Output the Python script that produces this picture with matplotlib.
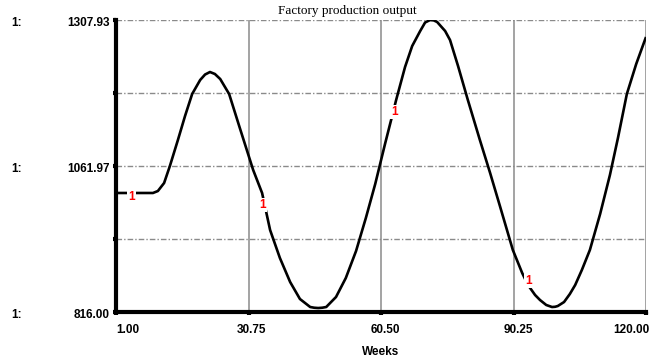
import numpy as np
import matplotlib
matplotlib.use("Agg")
import matplotlib.pyplot as plt
from matplotlib import transforms

# Simulated factory output (weeks vs units)
weeks = [1.0, 9.3, 10.4, 11.8, 13.1, 14.9, 16.5, 18.1, 19.9, 21.0, 22.1, 23.2,
         24.4, 26.4, 28.8, 31.8, 33.8, 35.6, 37.8, 40.1, 42.3, 44.6, 45.5, 46.4,
         47.3, 48.2, 50.4, 52.6, 54.9, 57.1, 59.2, 61.4, 63.0, 63.9, 65.9, 67.5,
         69.3, 70.4, 71.5, 72.3, 73.1, 74.9, 76.0, 77.8, 80.0, 82.7, 85.0, 87.2,
         90.1, 92.2, 93.5, 95.1, 96.2, 97.6, 98.9, 99.6, 100.2, 101.6, 102.9,
         104.1, 105.6, 107.4, 109.7, 111.9, 113.7, 115.7, 117.8, 120.0]
output = [1016.5, 1016.5, 1019.8, 1033.3, 1062.0, 1105.8, 1146.2, 1183.3, 1206.9,
          1216.1, 1220.3, 1217.0, 1208.5, 1183.3, 1126.0, 1055.2, 1016.5, 954.1,
          907.0, 866.5, 837.9, 824.4, 823.2, 822.7, 823.2, 824.4, 841.3, 873.3,
          918.8, 974.4, 1031.6, 1099.0, 1146.2, 1173.2, 1228.8, 1264.1, 1289.4,
          1303.7, 1307.9, 1307.4, 1304.6, 1289.4, 1274.2, 1230.4, 1173.2, 1105.8,
          1050.2, 994.6, 920.5, 881.7, 861.5, 844.6, 836.2, 827.8, 824.4, 824.8,
          826.1, 832.8, 846.3, 861.5, 886.8, 920.5, 981.1, 1046.8, 1109.1,
          1183.3, 1233.8, 1279.3]

x_ticks = [1.00, 30.75, 60.50, 90.25, 120.00]
x_tick_labels = ["1.00", "30.75", "60.50", "90.25", "120.00"]
y_min, y_max = 816.00, 1307.93
y_ticks = [816.00, 1061.97, 1307.93]
y_tick_labels = ["816.00", "1061.97", "1307.93"]
# series-number markers placed along the curve
marker_weeks = [4.4, 34.0, 63.6, 93.7]
marker_values = [1009.7, 996.3, 1152.9, 868.2]

W, H, DPI = 652, 364, 100
fig = plt.figure(figsize=(W / DPI, H / DPI), dpi=DPI)
ax = fig.add_axes([116 / W, 52 / H, 530 / W, 292 / H])
ax.set_xlim(x_ticks[0], x_ticks[-1])
ax.set_ylim(y_min, y_max)

sans = ["Liberation Sans", "DejaVu Sans"]
serif = ["Liberation Serif", "DejaVu Serif"]

# grid: dotted-dash horizontals at quarters, grey verticals
grid_color = "#8a8a8a"
for v in np.linspace(y_min, y_max, 5)[1:]:
    ax.axhline(v, color=grid_color, lw=1.0, ls=(0, (4, 1.5, 1, 1.5)), zorder=1)
for xv in x_ticks[1:]:
    ax.axvline(xv, color=grid_color, lw=1.1, zorder=1)

ax.plot(weeks, output, color="black", lw=1.9, zorder=3, solid_capstyle="butt",
        solid_joinstyle="round")

for wk, val in zip(marker_weeks, marker_values):
    ax.text(wk, val, "1", color="red", fontsize=8.5, fontweight="bold",
            family=sans, ha="center", va="center", zorder=4,
            bbox=dict(facecolor="white", edgecolor="none", pad=0.8))

for side in ("top", "right"):
    ax.spines[side].set_visible(False)
ax.spines["left"].set_linewidth(3.0)
ax.spines["bottom"].set_linewidth(3.0)
ax.spines["left"].set_zorder(5)
ax.spines["bottom"].set_zorder(5)

ax.set_yticks(np.linspace(y_min, y_max, 5))
ax.set_xticks(x_ticks)
ax.set_yticklabels([])
ax.set_xticklabels([])
ax.tick_params(axis="both", direction="out", length=2.5, width=3, color="black")

# y-axis labels with series prefix
ytrans = transforms.blended_transform_factory(fig.transFigure, ax.transData)
down = transforms.ScaledTranslation(0, -3 / DPI, fig.dpi_scale_trans)
for v, lab in zip(y_ticks, y_tick_labels):
    fig.text(110 / W, v, lab, transform=ytrans + down, ha="right", va="center",
             fontsize=8.5, fontweight="bold", family=sans)
    fig.text(11 / W, v, "1:", transform=ytrans + down, ha="left", va="center",
             fontsize=8.5, fontweight="bold", family=sans)

# x-axis labels
xtrans = transforms.blended_transform_factory(ax.transData, fig.transFigure)
x_offsets = [0, 3, 4, 5, -15]
x_align = ["left", "center", "center", "center", "center"]
for xv, lab, dx, ha in zip(x_ticks, x_tick_labels, x_offsets, x_align):
    shift = transforms.ScaledTranslation(dx / DPI, 0, fig.dpi_scale_trans)
    fig.text(xv, 1 - 330 / H, lab, transform=xtrans + shift, ha=ha, va="center",
             fontsize=8.5, fontweight="bold", family=sans)

fig.text(381 / W, 1 - 352 / H, "Weeks", ha="center", va="center",
         fontsize=8.5, fontweight="bold", family=sans)
fig.text(347 / W, 1 - 11 / H, "Factory production output", ha="center",
         va="center", fontsize=9.5, family=serif)

fig.savefig("out.png", dpi=DPI)
